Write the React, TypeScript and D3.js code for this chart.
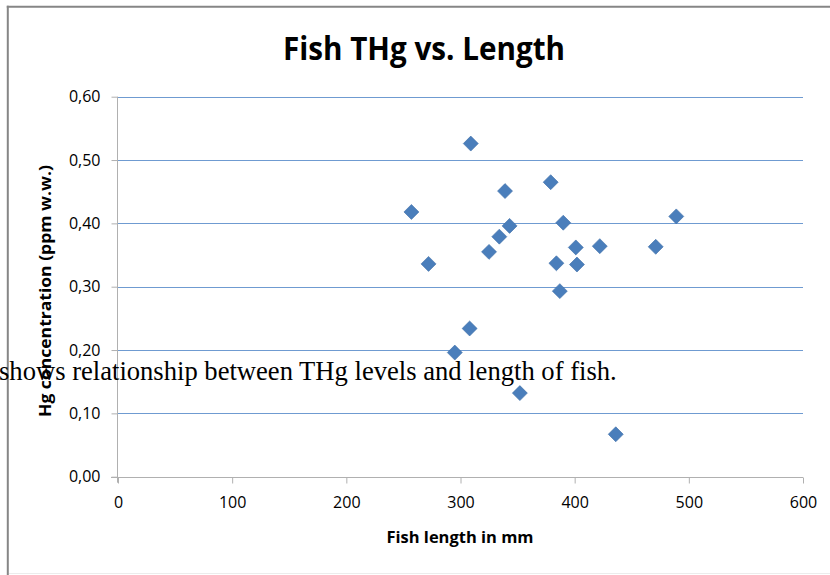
import React, { useEffect, useRef } from 'react';
import * as d3 from 'd3';

// Fish length (mm) and total Hg (ppm wet weight)
const fishLength = [257, 272, 309, 339, 343, 334, 325, 308, 295, 352, 379, 390, 384, 387, 401, 402, 422, 436, 471, 489];
const hgConc = [0.418, 0.336, 0.526, 0.451, 0.396, 0.379, 0.355, 0.234, 0.196, 0.132, 0.465, 0.401, 0.337, 0.293, 0.362, 0.335, 0.364, 0.067, 0.363, 0.411];

const xTicks = [0, 100, 200, 300, 400, 500, 600];
const yTicks = [0, 0.1, 0.2, 0.3, 0.4, 0.5, 0.6];

const title = 'Fish THg vs. Length';
const xTitle = 'Fish length in mm';
const yTitle = 'Hg concentration (ppm w.w.)';
const caption = 'shows relationship between THg levels and length of fish.';

const W = 830;
const H = 575;

const App: React.FC = () => {
  const svgRef = useRef<SVGSVGElement>(null);

  useEffect(() => {
    if (!svgRef.current) return;
    const svg = d3.select(svgRef.current);
    svg.selectAll('*').remove();

    const font = "'Open Sans', sans-serif";
    const locale = d3.formatLocale({ decimal: ',', thousands: '.', grouping: [3], currency: ['', ''] });
    const fmtY = locale.format('.2f');

    const x = d3.scaleLinear().domain([0, 600]).range([118, 803]);
    const y = d3.scaleLinear().domain([0, 0.6]).range([476.7, 96.7]);

    svg.append('rect').attr('width', W).attr('height', H).attr('fill', '#fff');

    // frame of the embedded chart
    svg.append('line').attr('x1', 7.8).attr('x2', 7.8).attr('y1', 5.7).attr('y2', H)
      .attr('stroke', '#868686').attr('stroke-width', 2);
    svg.append('line').attr('x1', 6.8).attr('x2', W).attr('y1', 6.7).attr('y2', 6.7)
      .attr('stroke', '#868686').attr('stroke-width', 2);
    svg.append('line').attr('x1', 9).attr('x2', W).attr('y1', 573.5).attr('y2', 573.5)
      .attr('stroke', '#ececec').attr('stroke-width', 1);

    // title
    svg.append('text')
      .attr('x', 424).attr('y', 60)
      .attr('text-anchor', 'middle')
      .attr('font-family', font).attr('font-weight', 'bold').attr('font-size', 32)
      .attr('textLength', 282).attr('lengthAdjust', 'spacingAndGlyphs')
      .attr('fill', '#000')
      .text(title);

    // gridlines
    svg.append('g')
      .selectAll('line')
      .data(yTicks.filter(t => t > 0))
      .join('line')
      .attr('x1', x(0)).attr('x2', x(600))
      .attr('y1', d => Math.round(y(d)) + 0.5).attr('y2', d => Math.round(y(d)) + 0.5)
      .attr('stroke', '#6f9bd1').attr('stroke-width', 1);

    const axisColor = '#b0b0b0';

    // x axis
    const xAxis = svg.append('g')
      .attr('transform', `translate(0,${Math.round(y(0)) + 0.5})`)
      .call(d3.axisBottom(x).tickValues(xTicks).tickSize(6).tickSizeOuter(0).tickPadding(13));
    xAxis.select('.domain').attr('stroke', axisColor).attr('d', `M${x(0) - 7},0H${x(600)}`);
    xAxis.selectAll('.tick line').attr('stroke', axisColor);
    xAxis.selectAll('.tick text')
      .attr('font-family', font).attr('font-size', 16).attr('fill', '#000');

    // y axis
    const yAxis = svg.append('g')
      .attr('transform', `translate(${Math.round(x(0)) - 0.5},0)`)
      .call(d3.axisLeft(y).tickValues(yTicks).tickFormat(d => fmtY(d as number)).tickSize(6).tickSizeOuter(0).tickPadding(11));
    yAxis.select('.domain').attr('stroke', axisColor).attr('d', `M0,${y(0.6)}V${y(0) + 6}`);
    yAxis.selectAll('.tick line').attr('stroke', axisColor);
    yAxis.selectAll('.tick text')
      .attr('font-family', font).attr('font-size', 16).attr('fill', '#000');

    // axis titles
    svg.append('text')
      .attr('x', 460).attr('y', 543)
      .attr('text-anchor', 'middle')
      .attr('font-family', font).attr('font-weight', 'bold').attr('font-size', 16)
      .attr('textLength', 147).attr('lengthAdjust', 'spacingAndGlyphs')
      .text(xTitle);

    svg.append('text')
      .attr('transform', 'translate(51,291) rotate(-90)')
      .attr('text-anchor', 'middle')
      .attr('font-family', font).attr('font-weight', 'bold').attr('font-size', 16)
      .attr('textLength', 252).attr('lengthAdjust', 'spacingAndGlyphs')
      .text(yTitle);

    // points
    const diamond = d3.symbol().type(d3.symbolSquare).size(112);
    svg.append('g')
      .selectAll('path')
      .data(fishLength.map((len, i) => ({ len, hg: hgConc[i] })))
      .join('path')
      .attr('transform', d => `translate(${x(d.len)},${y(d.hg)}) rotate(45)`)
      .attr('d', diamond)
      .attr('fill', '#4a7ebb')
      .attr('stroke', '#3f6fa8')
      .attr('stroke-width', 0.6);

    // document text that runs over the chart
    svg.append('text')
      .attr('x', -1).attr('y', 380)
      .attr('font-family', "'Liberation Serif', 'DejaVu Serif', serif")
      .attr('font-size', 26.6)
      .attr('fill', '#000')
      .text(caption);
  }, []);

  return (
    <svg
      ref={svgRef}
      width={W}
      height={H}
      style={{ position: 'absolute', left: 0, top: 0, display: 'block' }}
    />
  );
};

export default App;
